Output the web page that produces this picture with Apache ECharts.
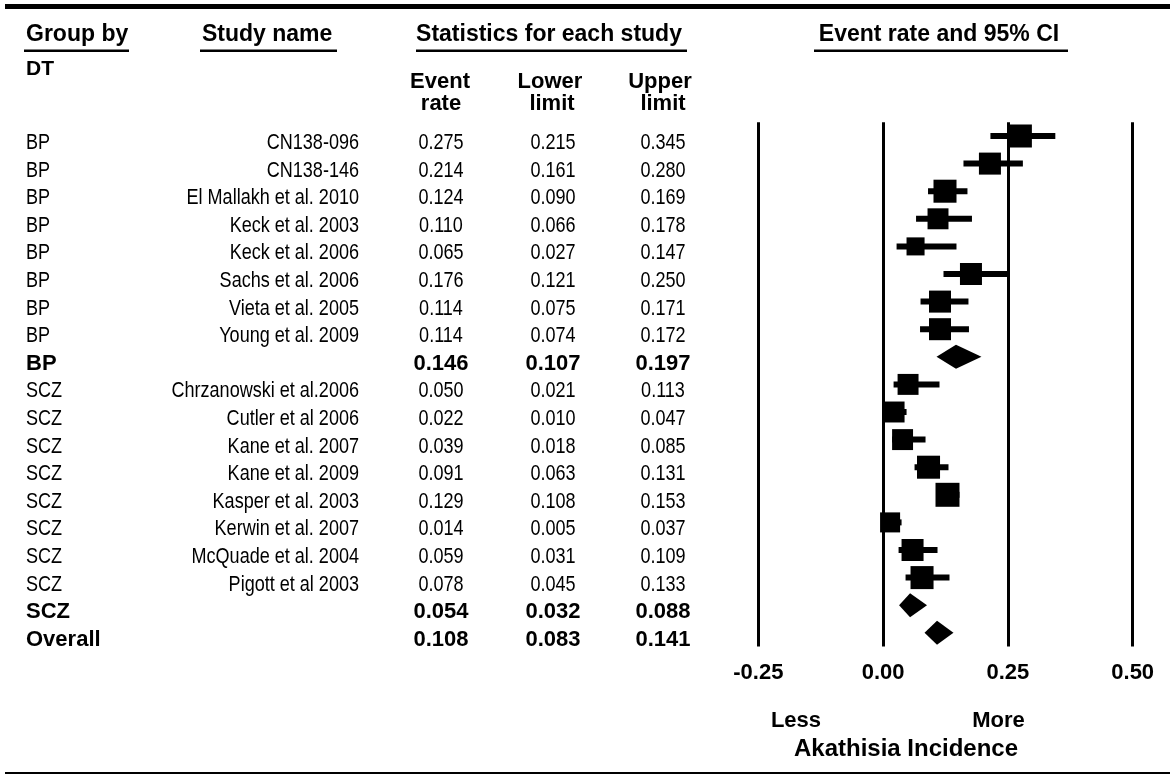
<!DOCTYPE html>
<html>
<head>
<meta charset="utf-8">
<title>Akathisia incidence forest plot</title>
<script src="https://cdn.jsdelivr.net/npm/echarts@6/dist/echarts.min.js"></script>
<style>
  html, body { margin: 0; padding: 0; background: #fff; }
  #chart { width: 1173px; height: 778px; }
</style>
</head>
<body>
<div id="chart"></div>
<script>
// ---- Study-level data ----
const groups = ['BP', 'BP', 'BP', 'BP', 'BP', 'BP', 'BP', 'BP',
                'SCZ', 'SCZ', 'SCZ', 'SCZ', 'SCZ', 'SCZ', 'SCZ', 'SCZ'];
const studies = ['CN138-096', 'CN138-146', 'El Mallakh et al. 2010', 'Keck et al. 2003',
                 'Keck et al. 2006', 'Sachs et al. 2006', 'Vieta et al. 2005', 'Young et al. 2009',
                 'Chrzanowski et al.2006', 'Cutler et al 2006', 'Kane et al. 2007', 'Kane et al. 2009',
                 'Kasper et al. 2003', 'Kerwin et al. 2007', 'McQuade et al. 2004', 'Pigott et al 2003'];
const eventRate  = [0.275, 0.214, 0.124, 0.110, 0.065, 0.176, 0.114, 0.114,
                    0.050, 0.022, 0.039, 0.091, 0.129, 0.014, 0.059, 0.078];
const lowerLimit = [0.215, 0.161, 0.090, 0.066, 0.027, 0.121, 0.075, 0.074,
                    0.021, 0.010, 0.018, 0.063, 0.108, 0.005, 0.031, 0.045];
const upperLimit = [0.345, 0.280, 0.169, 0.178, 0.147, 0.250, 0.171, 0.172,
                    0.113, 0.047, 0.085, 0.131, 0.153, 0.037, 0.109, 0.133];
// relative study weight (%), drives the area of each square
const studyWeight = [7.0, 6.4, 7.0, 5.8, 4.3, 6.4, 6.4, 6.4,
                     5.8, 5.8, 5.8, 7.0, 7.6, 5.3, 6.4, 7.0];

// ---- Pooled estimates ----
const subgroupNames = ['BP', 'SCZ'];
const subgroupRate  = [0.146, 0.054];
const subgroupLower = [0.107, 0.032];
const subgroupUpper = [0.197, 0.088];
const overallLabel = 'Overall';
const overallRate  = 0.108;
const overallLower = 0.083;
const overallUpper = 0.141;

// ---- Axis ----
const xTicks = [-0.25, 0.00, 0.25, 0.50];
const xStep = 0.25;

// Build the row list: studies of each subgroup, then its pooled row, then overall.
const rows = [];
subgroupNames.forEach(function (g, gi) {
  groups.forEach(function (grp, i) {
    if (grp === g) {
      rows.push({ kind: 'study', group: grp, name: studies[i], rate: eventRate[i],
                  lo: lowerLimit[i], hi: upperLimit[i], w: studyWeight[i] });
    }
  });
  rows.push({ kind: 'pooled', group: g, name: '', rate: subgroupRate[gi],
              lo: subgroupLower[gi], hi: subgroupUpper[gi], w: 0 });
});
rows.push({ kind: 'pooled', group: overallLabel, name: '', rate: overallRate,
            lo: overallLower, hi: overallUpper, w: 0 });

const seriesData = rows.map(function (r, i) { return [i, r.rate, r.lo, r.hi, r.w]; });

const FONT = '"Liberation Sans", Arial, sans-serif';
const NARROW = 0.82;          // horizontal squeeze for the regular table text
const TEXT_DY = 7;            // table text sits a little below the marker centre
const COL = { group: 26, study: 359, rate: 441, lower: 553, upper: 663 };

function txt(x, y, s, opt) {
  opt = opt || {};
  return {
    type: 'text',
    x: x, y: y,
    scaleX: opt.scaleX || 1,
    style: {
      text: s, x: 0, y: 0,
      fill: '#000',
      font: (opt.bold ? 'bold ' : '') + (opt.size || 22) + 'px ' + FONT,
      align: opt.align || 'left', textAlign: opt.align || 'left',
      verticalAlign: 'middle', textVerticalAlign: 'middle'
    }
  };
}

function renderTable(params, api) {
  const r = rows[params.dataIndex];
  const y = api.coord([0, api.value(0)])[1] + TEXT_DY;
  const bold = r.kind === 'pooled';
  const sx = bold ? 1 : NARROW;
  const o = function (align) { return { bold: bold, scaleX: sx, align: align }; };
  const children = [
    txt(COL.group, y, r.group, o('left')),
    txt(COL.rate, y, api.value(1).toFixed(3), o('center')),
    txt(COL.lower, y, api.value(2).toFixed(3), o('center')),
    txt(COL.upper, y, api.value(3).toFixed(3), o('center'))
  ];
  if (r.name) children.push(txt(COL.study, y, r.name, o('right')));
  return { type: 'group', children: children };
}

function renderMarks(params, api) {
  const r = rows[params.dataIndex];
  const row = api.value(0);
  const c = api.coord([api.value(1), row]);
  const lo = api.coord([api.value(2), row]);
  const hi = api.coord([api.value(3), row]);
  if (r.kind === 'pooled') {
    const h = 12;
    return {
      type: 'polygon',
      shape: { points: [[lo[0], c[1]], [c[0], c[1] - h], [hi[0], c[1]], [c[0], c[1] + h]] },
      style: { fill: '#000' }
    };
  }
  const s = Math.sqrt(api.value(4)) * 8.7;
  return {
    type: 'group',
    children: [
      { type: 'line', shape: { x1: lo[0], y1: c[1], x2: hi[0], y2: c[1] },
        style: { stroke: '#000', lineWidth: 6 } },
      { type: 'rect', shape: { x: c[0] - s / 2, y: c[1] - s / 2, width: s, height: s },
        style: { fill: '#000' } }
    ]
  };
}

function heading(x, y, s, align, size) {
  return {
    type: 'text', x: x, y: y,
    style: { text: s, fill: '#000', font: 'bold ' + (size || 23) + 'px ' + FONT,
             align: align, textAlign: align, verticalAlign: 'middle', textVerticalAlign: 'middle' }
  };
}
function bar(x, y, w, h) {
  return { type: 'rect', shape: { x: x, y: y, width: w, height: h }, style: { fill: '#000' } };
}

const chart = echarts.init(document.getElementById('chart'), null, { renderer: 'canvas' });
chart.setOption({
  animation: false,
  backgroundColor: '#fff',
  grid: { left: 758.3, right: 40.3, top: 122.2, bottom: 131.4, containLabel: false },
  xAxis: {
    type: 'value', min: xTicks[0], max: xTicks[xTicks.length - 1], interval: xStep,
    axisLine: { show: false }, axisTick: { show: false },
    splitLine: { show: true, lineStyle: { color: '#000', width: 3 } },
    axisLabel: {
      color: '#000', fontWeight: 'bold', fontSize: 22, fontFamily: FONT, margin: 15,
      formatter: function (v) { return v.toFixed(2); }
    }
  },
  yAxis: { type: 'value', inverse: true, min: -0.5, max: rows.length - 0.5, show: false },
  series: [
    { type: 'custom', name: 'table', data: seriesData, renderItem: renderTable,
      encode: { x: [1, 2, 3], y: 0 }, clip: false, silent: true },
    { type: 'custom', name: 'marks', data: seriesData, renderItem: renderMarks,
      encode: { x: [1, 2, 3], y: 0 }, clip: false, silent: true }
  ],
  graphic: [
    bar(5, 4, 1165, 5),
    bar(5, 772, 1165, 2),
    heading(26, 35, 'Group by', 'left'),
    bar(24, 49.5, 105, 2.5),
    heading(202, 35, 'Study name', 'left'),
    bar(200, 49.5, 137, 2.5),
    heading(549, 35, 'Statistics for each study', 'center'),
    bar(416, 49.5, 271, 2.5),
    heading(939, 35, 'Event rate and 95% CI', 'center'),
    bar(814, 49.5, 254, 2.5),
    heading(26, 69, 'DT', 'left', 21),
    heading(440, 82, 'Event', 'center', 22),
    heading(441, 104, 'rate', 'center', 22),
    heading(550, 82, 'Lower', 'center', 22),
    heading(552, 104, 'limit', 'center', 22),
    heading(660, 82, 'Upper', 'center', 22),
    heading(663, 104, 'limit', 'center', 22),
    heading(796, 720.5, 'Less', 'center', 22),
    heading(998.5, 720.5, 'More', 'center', 22),
    heading(906, 749.5, 'Akathisia Incidence', 'center', 24)
  ]
});
</script>
</body>
</html>
